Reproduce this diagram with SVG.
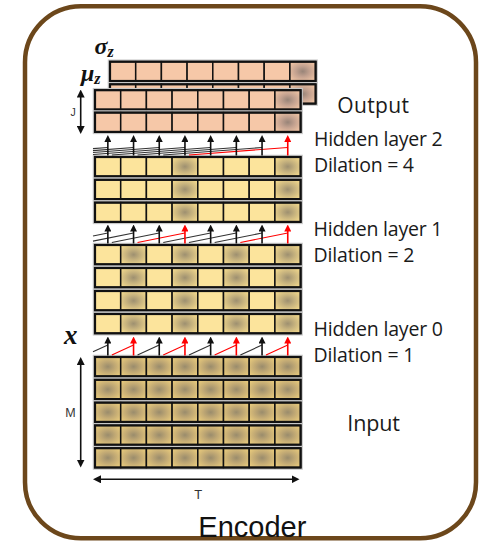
<svg xmlns="http://www.w3.org/2000/svg" xmlns:xlink="http://www.w3.org/1999/xlink" width="481" height="542" viewBox="0 0 481 542">
<style>
.lbl{font-family:"Open Sans","Noto Sans","Liberation Sans",sans-serif;fill:#1a1a1a}
.dim{font-family:"Liberation Sans",Arial,sans-serif;fill:#333}
.math{font-family:"Liberation Serif","DejaVu Serif",serif;font-weight:bold;font-style:italic;fill:#111}
.cell{stroke:#111;stroke-width:1.5}
.rowbox{fill:none;stroke:#111;stroke-width:2.2}
.halo{fill:none;stroke:#c8c8c8;stroke-width:4.5}
.shaft-k{stroke:#111;stroke-width:1.6;fill:none}
.shaft-r{stroke:#ff0000;stroke-width:1.6;fill:none}
.diag-k{stroke:#333;stroke-width:1.1;fill:none}
.diag-r{stroke:#ff0000;stroke-width:1.1;fill:none}
.dimline{stroke:#111;stroke-width:1.6;fill:none}
.py{fill:#fce49c}
.po{fill:#f6c8a8}
</style>
<defs>
<radialGradient id="gY" cx="0.5" cy="0.5" r="0.62">
<stop offset="0" stop-color="#9e9070"/><stop offset="0.45" stop-color="#c6b27e"/><stop offset="1" stop-color="#f2d88c"/>
</radialGradient>
<radialGradient id="gI" cx="0.5" cy="0.5" r="0.62">
<stop offset="0" stop-color="#9a8c6c"/><stop offset="0.45" stop-color="#c0a874"/><stop offset="1" stop-color="#e8ca7c"/>
</radialGradient>
<radialGradient id="gO" cx="0.5" cy="0.5" r="0.62">
<stop offset="0" stop-color="#988478"/><stop offset="0.45" stop-color="#c4a290"/><stop offset="1" stop-color="#f0c4a4"/>
</radialGradient>
<marker id="ahK" markerUnits="userSpaceOnUse" markerWidth="7" markerHeight="7" viewBox="0 0 7 7" refX="1" refY="3.5" orient="auto"><path d="M0,0 L7,3.5 L0,7 z" fill="#111"/></marker>
<marker id="ahR" markerUnits="userSpaceOnUse" markerWidth="7" markerHeight="7" viewBox="0 0 7 7" refX="1" refY="3.5" orient="auto"><path d="M0,0 L7,3.5 L0,7 z" fill="#ff0000"/></marker>
<marker id="ahD" markerUnits="userSpaceOnUse" markerWidth="8" markerHeight="8" viewBox="0 0 8 8" refX="1" refY="4" orient="auto-start-reverse"><path d="M0,0 L8,4 L0,8 z" fill="#111"/></marker>
<g id="tpl-out">
<rect class="halo" x="0" y="0" width="205.6" height="19.3"/>
<rect class="cell po" x="0" y="0" width="25.7" height="19.3"/>
<rect class="cell po" x="25.7" y="0" width="25.7" height="19.3"/>
<rect class="cell po" x="51.4" y="0" width="25.7" height="19.3"/>
<rect class="cell po" x="77.1" y="0" width="25.7" height="19.3"/>
<rect class="cell po" x="102.8" y="0" width="25.7" height="19.3"/>
<rect class="cell po" x="128.5" y="0" width="25.7" height="19.3"/>
<rect class="cell po" x="154.2" y="0" width="25.7" height="19.3"/>
<rect class="cell" fill="url(#gO)" x="179.9" y="0" width="25.7" height="19.3"/>
<rect class="rowbox" x="0" y="0" width="205.6" height="19.3"/>
</g>
<g id="tpl-h1">
<rect class="halo" x="0" y="0" width="205.6" height="19.3"/>
<rect class="cell py" x="0" y="0" width="25.7" height="19.3"/>
<rect class="cell py" x="25.7" y="0" width="25.7" height="19.3"/>
<rect class="cell py" x="51.4" y="0" width="25.7" height="19.3"/>
<rect class="cell" fill="url(#gY)" x="77.1" y="0" width="25.7" height="19.3"/>
<rect class="cell py" x="102.8" y="0" width="25.7" height="19.3"/>
<rect class="cell py" x="128.5" y="0" width="25.7" height="19.3"/>
<rect class="cell py" x="154.2" y="0" width="25.7" height="19.3"/>
<rect class="cell" fill="url(#gY)" x="179.9" y="0" width="25.7" height="19.3"/>
<rect class="rowbox" x="0" y="0" width="205.6" height="19.3"/>
</g>
<g id="tpl-h0">
<rect class="halo" x="0" y="0" width="205.6" height="19.3"/>
<rect class="cell py" x="0" y="0" width="25.7" height="19.3"/>
<rect class="cell" fill="url(#gY)" x="25.7" y="0" width="25.7" height="19.3"/>
<rect class="cell py" x="51.4" y="0" width="25.7" height="19.3"/>
<rect class="cell" fill="url(#gY)" x="77.1" y="0" width="25.7" height="19.3"/>
<rect class="cell py" x="102.8" y="0" width="25.7" height="19.3"/>
<rect class="cell" fill="url(#gY)" x="128.5" y="0" width="25.7" height="19.3"/>
<rect class="cell py" x="154.2" y="0" width="25.7" height="19.3"/>
<rect class="cell" fill="url(#gY)" x="179.9" y="0" width="25.7" height="19.3"/>
<rect class="rowbox" x="0" y="0" width="205.6" height="19.3"/>
</g>
<g id="tpl-in">
<rect class="halo" x="0" y="0" width="205.6" height="19.3"/>
<rect class="cell" fill="url(#gI)" x="0" y="0" width="25.7" height="19.3"/>
<rect class="cell" fill="url(#gI)" x="25.7" y="0" width="25.7" height="19.3"/>
<rect class="cell" fill="url(#gI)" x="51.4" y="0" width="25.7" height="19.3"/>
<rect class="cell" fill="url(#gI)" x="77.1" y="0" width="25.7" height="19.3"/>
<rect class="cell" fill="url(#gI)" x="102.8" y="0" width="25.7" height="19.3"/>
<rect class="cell" fill="url(#gI)" x="128.5" y="0" width="25.7" height="19.3"/>
<rect class="cell" fill="url(#gI)" x="154.2" y="0" width="25.7" height="19.3"/>
<rect class="cell" fill="url(#gI)" x="179.9" y="0" width="25.7" height="19.3"/>
<rect class="rowbox" x="0" y="0" width="205.6" height="19.3"/>
</g>
</defs>

<rect id="frame" x="25" y="6.3" width="451" height="532" rx="56" ry="56" fill="#fff" stroke="#6c471b" stroke-width="4.5"/>

<!-- Output rows -->
<g id="out-sigma-back"><use href="#tpl-out" x="110" y="61.7"/></g>
<g id="out-sigma-back2"><use href="#tpl-out" x="110" y="84.3"/></g>
<g id="out-mu-row1"><use href="#tpl-out" x="95" y="90.2"/></g>
<g id="out-mu-row2"><use href="#tpl-out" x="95" y="112.6"/></g>

<!-- Hidden layer rows (3) -->
<g id="h1-row1"><use href="#tpl-h1" x="95" y="157"/></g>
<g id="h1-row2"><use href="#tpl-h1" x="95" y="179.8"/></g>
<g id="h1-row3"><use href="#tpl-h1" x="95" y="202.6"/></g>

<!-- Hidden layer rows (4) -->
<g id="h0-row1"><use href="#tpl-h0" x="95" y="245"/></g>
<g id="h0-row2"><use href="#tpl-h0" x="95" y="268"/></g>
<g id="h0-row3"><use href="#tpl-h0" x="95" y="291"/></g>
<g id="h0-row4"><use href="#tpl-h0" x="95" y="314"/></g>

<!-- Input rows (5) -->
<g id="in-row1"><use href="#tpl-in" x="95" y="357"/></g>
<g id="in-row2"><use href="#tpl-in" x="95" y="379.8"/></g>
<g id="in-row3"><use href="#tpl-in" x="95" y="402.6"/></g>
<g id="in-row4"><use href="#tpl-in" x="95" y="425.4"/></g>
<g id="in-row5"><use href="#tpl-in" x="95" y="448.2"/></g>

<g id="connectors">
<!-- dilation 4 -->
<line class="diag-k" x1="93" y1="148.63" x2="107.85" y2="147.5"/>
<line class="diag-k" x1="93" y1="150.58" x2="133.55" y2="147.5"/>
<line class="diag-k" x1="93" y1="152.53" x2="159.25" y2="147.5"/>
<line class="diag-k" x1="93" y1="154.48" x2="184.95" y2="147.5"/>
<line class="diag-k" x1="111.85" y1="155" x2="210.65" y2="147.5"/>
<line class="diag-k" x1="137.55" y1="155" x2="236.35" y2="147.5"/>
<line class="diag-k" x1="163.25" y1="155" x2="262.05" y2="147.5"/>
<line class="diag-r" x1="188.95" y1="155" x2="287.75" y2="147.5"/>
<line class="shaft-k" x1="107.85" y1="155.5" x2="107.85" y2="141" marker-end="url(#ahK)"/>
<line class="shaft-k" x1="133.55" y1="155.5" x2="133.55" y2="141" marker-end="url(#ahK)"/>
<line class="shaft-k" x1="159.25" y1="155.5" x2="159.25" y2="141" marker-end="url(#ahK)"/>
<line class="shaft-k" x1="184.95" y1="155.5" x2="184.95" y2="141" marker-end="url(#ahK)"/>
<line class="shaft-k" x1="210.65" y1="155.5" x2="210.65" y2="141" marker-end="url(#ahK)"/>
<line class="shaft-k" x1="236.35" y1="155.5" x2="236.35" y2="141" marker-end="url(#ahK)"/>
<line class="shaft-k" x1="262.05" y1="155.5" x2="262.05" y2="141" marker-end="url(#ahK)"/>
<line class="shaft-r" x1="287.75" y1="155.5" x2="287.75" y2="141" marker-end="url(#ahR)"/>
<!-- dilation 2 -->
<line class="diag-k" x1="93" y1="235.98" x2="107.85" y2="233"/>
<line class="diag-k" x1="93" y1="241.13" x2="133.55" y2="233"/>
<line class="diag-k" x1="111.85" y1="242.5" x2="159.25" y2="233"/>
<line class="diag-r" x1="137.55" y1="242.5" x2="184.95" y2="233"/>
<line class="diag-k" x1="163.25" y1="242.5" x2="210.65" y2="233"/>
<line class="diag-k" x1="188.95" y1="242.5" x2="236.35" y2="233"/>
<line class="diag-k" x1="214.65" y1="242.5" x2="262.05" y2="233"/>
<line class="diag-r" x1="240.35" y1="242.5" x2="287.75" y2="233"/>
<line class="shaft-k" x1="107.85" y1="243.5" x2="107.85" y2="230.5" marker-end="url(#ahK)"/>
<line class="shaft-k" x1="133.55" y1="243.5" x2="133.55" y2="230.5" marker-end="url(#ahK)"/>
<line class="shaft-k" x1="159.25" y1="243.5" x2="159.25" y2="230.5" marker-end="url(#ahK)"/>
<line class="shaft-r" x1="184.95" y1="243.5" x2="184.95" y2="230.5" marker-end="url(#ahR)"/>
<line class="shaft-k" x1="210.65" y1="243.5" x2="210.65" y2="230.5" marker-end="url(#ahK)"/>
<line class="shaft-k" x1="236.35" y1="243.5" x2="236.35" y2="230.5" marker-end="url(#ahK)"/>
<line class="shaft-k" x1="262.05" y1="243.5" x2="262.05" y2="230.5" marker-end="url(#ahK)"/>
<line class="shaft-r" x1="287.75" y1="243.5" x2="287.75" y2="230.5" marker-end="url(#ahR)"/>
<!-- dilation 1 -->
<line class="diag-k" x1="93" y1="351.84" x2="107.85" y2="345"/>
<line class="diag-r" x1="111.85" y1="355" x2="133.55" y2="345"/>
<line class="diag-k" x1="137.55" y1="355" x2="159.25" y2="345"/>
<line class="diag-r" x1="163.25" y1="355" x2="184.95" y2="345"/>
<line class="diag-k" x1="188.95" y1="355" x2="210.65" y2="345"/>
<line class="diag-r" x1="214.65" y1="355" x2="236.35" y2="345"/>
<line class="diag-k" x1="240.35" y1="355" x2="262.05" y2="345"/>
<line class="diag-r" x1="266.05" y1="355" x2="287.75" y2="345"/>
<line class="shaft-k" x1="107.85" y1="355.5" x2="107.85" y2="342.5" marker-end="url(#ahK)"/>
<line class="shaft-r" x1="133.55" y1="355.5" x2="133.55" y2="342.5" marker-end="url(#ahR)"/>
<line class="shaft-k" x1="159.25" y1="355.5" x2="159.25" y2="342.5" marker-end="url(#ahK)"/>
<line class="shaft-r" x1="184.95" y1="355.5" x2="184.95" y2="342.5" marker-end="url(#ahR)"/>
<line class="shaft-k" x1="210.65" y1="355.5" x2="210.65" y2="342.5" marker-end="url(#ahK)"/>
<line class="shaft-r" x1="236.35" y1="355.5" x2="236.35" y2="342.5" marker-end="url(#ahR)"/>
<line class="shaft-k" x1="262.05" y1="355.5" x2="262.05" y2="342.5" marker-end="url(#ahK)"/>
<line class="shaft-r" x1="287.75" y1="355.5" x2="287.75" y2="342.5" marker-end="url(#ahR)"/>
<!-- dimension arrows -->
<line class="dimline" x1="80.7" y1="96.5" x2="80.7" y2="127" marker-start="url(#ahD)" marker-end="url(#ahD)"/>
<line class="dimline" x1="80.7" y1="364" x2="80.7" y2="460.5" marker-start="url(#ahD)" marker-end="url(#ahD)"/>
<line class="dimline" x1="100" y1="479.3" x2="292.5" y2="479.3" marker-start="url(#ahD)" marker-end="url(#ahD)"/>
</g>

<g id="labels">
<text class="math" x="94.5" y="53.5" font-size="24">σ<tspan font-size="16" dy="3">z</tspan></text>
<text class="math" x="81" y="80.5" font-size="24">μ<tspan font-size="16" dy="3.5">z</tspan></text>
<text class="math" x="64" y="344" font-size="27">x</text>
<text class="dim" x="73" y="116" font-size="10.5" text-anchor="middle">J</text>
<text class="dim" x="70.5" y="417.3" font-size="12.5" text-anchor="middle">M</text>
<text class="dim" x="198.3" y="499.3" font-size="13" text-anchor="middle">T</text>
<text class="lbl" x="337.3" y="113.3" font-size="21" textLength="71.7">Output</text>
<text class="lbl" x="314" y="145.5" font-size="19.5" textLength="128.7">Hidden layer 2</text>
<text class="lbl" x="314" y="171.7" font-size="19.5" textLength="100">Dilation = 4</text>
<text class="lbl" x="313.5" y="235.7" font-size="19.5" textLength="129">Hidden layer 1</text>
<text class="lbl" x="313.5" y="261.7" font-size="19.5" textLength="101">Dilation = 2</text>
<text class="lbl" x="313.5" y="335.8" font-size="19.5" textLength="129.5">Hidden layer 0</text>
<text class="lbl" x="313.5" y="362.3" font-size="19.5" textLength="101">Dilation = 1</text>
<text class="lbl" x="347.3" y="430.7" font-size="21.5" textLength="52.7">Input</text>
<text x="198.3" y="536.7" font-family="Liberation Sans, Arial, sans-serif" font-size="29" fill="#111">Encoder</text>
</g>
</svg>
